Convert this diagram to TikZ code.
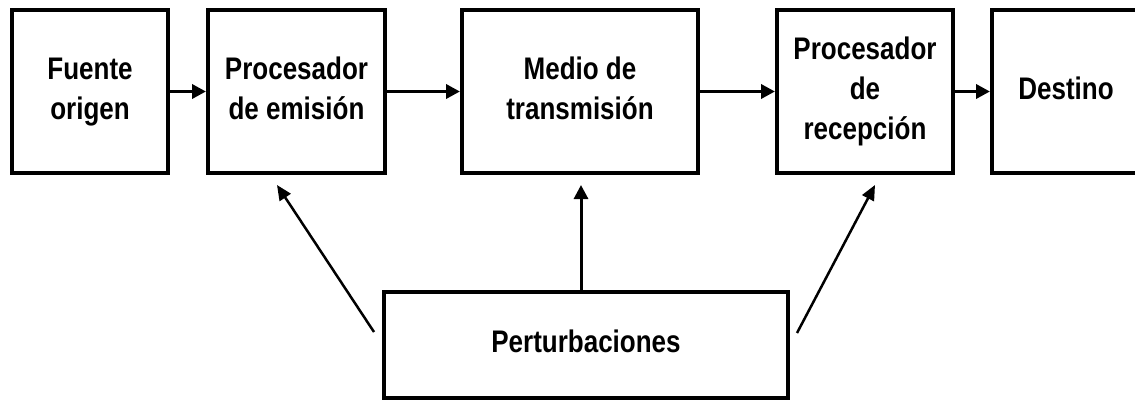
\documentclass[tikz,border=0pt]{standalone}
\usepackage{fontspec}
\setmainfont{Liberation Sans}
\usetikzlibrary{arrows.meta,calc}
\newcommand\boxlbl[1]{\scalebox{1}[1.2]{\renewcommand\arraystretch{1}\begin{tabular}{@{}c@{}}#1\end{tabular}}}
\begin{document}
\begin{tikzpicture}[x=1pt,y=-1pt,
  blk/.style={draw=black, line width=4pt, inner sep=0pt, align=center,
    font=\bfseries\fontsize{26}{33}\selectfont, minimum height=163pt},
  arr/.style={-{Triangle[length=14pt,width=14pt]}, line width=3.5pt},
  darr/.style={-{Triangle[length=15pt,width=13pt]}, line width=2.5pt}]
\useasboundingbox (0,0) rectangle (1135,399);
\node[blk, minimum width=156pt] (fo) at (90,91.5) {\boxlbl{Fuente\\origen}};
\node[blk, minimum width=177pt] (pe) at (296.5,91.5) {\boxlbl{Procesador\\de emisión}};
\node[blk, minimum width=236pt] (mt) at (580,91.5) {\boxlbl{Medio de\\transmisión}};
\node[blk, minimum width=176pt] (pr) at (865,91.5) {\boxlbl{Procesador\\de\\recepción}};
\node[blk, minimum width=148pt] (de) at (1066,91.5) {\boxlbl{Destino}};
\node[blk, minimum width=404pt, minimum height=106pt] (pt) at (586,345) {\boxlbl{Perturbaciones}};
\draw[arr] (fo.east) -- (pe.west);
\draw[arr] (pe.east) -- (mt.west);
\draw[arr] (mt.east) -- (pr.west);
\draw[arr] (pr.east) -- (de.west);
\coordinate (l1) at (374,332);
\coordinate (l2) at (277,185);
\coordinate (m2) at (581,185);
\coordinate (r1) at (797,333);
\coordinate (r2) at (875,185);
\draw[darr] (l1) -- (l2);
\draw[arr, line width=3pt] (pt.north -| m2) -- (m2);
\draw[darr] (r1) -- (r2);
\end{tikzpicture}
\end{document}
